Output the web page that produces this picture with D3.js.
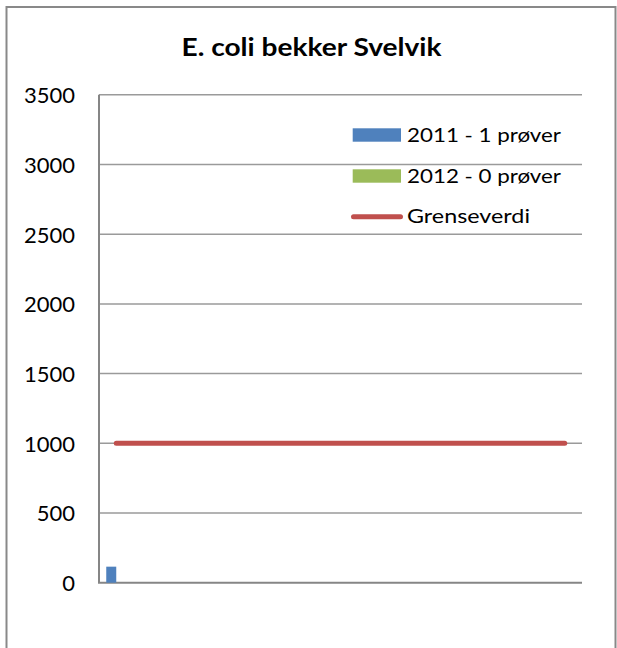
<!DOCTYPE html>
<html><head><meta charset="utf-8">
<script src="https://cdn.jsdelivr.net/npm/d3@7"></script>
<style>body{margin:0;background:#fff}svg{display:block}text{font-family:Lato,"Open Sans",sans-serif;fill:#000}</style>
</head><body>
<script>
// ---- data ----
const title = "E. coli bekker Svelvik";
const categories = ["B1","B2","B3","B4","B5","B6","B7","B8","B9","B10","B11","B12","B13","B14"];
const seriesNames = ["2011 - 1 prøver","2012 - 0 prøver"];
const values2011 = [115,null,null,null,null,null,null,null,null,null,null,null,null,null];
const values2012 = [null,null,null,null,null,null,null,null,null,null,null,null,null,null];
const limitName = "Grenseverdi";
const limitValues = [1000,1000,1000,1000,1000,1000,1000,1000,1000,1000,1000,1000,1000,1000];
const yTicks = [0,500,1000,1500,2000,2500,3000,3500];

// ---- layout ----
const W = 617, H = 648;
const plot = {left: 99, right: 582, top: 94.8, bottom: 582.7};
const colors = {"2011 - 1 prøver":"#4F81BD","2012 - 0 prøver":"#9BBB59"};
const lineColor = "#C0504D";

const svg = d3.select("body").append("svg").attr("width", W).attr("height", H);

// outer frame
svg.append("rect").attr("x",6.5).attr("y",7).attr("width",609).attr("height",680)
  .attr("fill","none").attr("stroke","#898989").attr("stroke-width",2);

// title
svg.append("text").attr("x",311.5).attr("y",56).attr("text-anchor","middle")
  .attr("font-weight","bold").attr("font-size",24.5)
  .attr("textLength",260).attr("lengthAdjust","spacingAndGlyphs").text(title);

const y = d3.scaleLinear().domain([0,3500]).range([plot.bottom, plot.top]);
const x0 = d3.scaleBand().domain(categories).range([plot.left, plot.right]).padding(0);
const groupW = x0.bandwidth()/1.725;
const x1 = d3.scaleBand().domain(seriesNames)
  .range([x0.bandwidth()/2 - groupW/2, x0.bandwidth()/2 + groupW/2]).padding(0);

// gridlines
svg.append("g").selectAll("line").data(yTicks.filter(d=>d>0)).join("line")
  .attr("x1",plot.left).attr("x2",plot.right)
  .attr("y1",d=>y(d)).attr("y2",d=>y(d))
  .attr("stroke","#9a9a9a").attr("stroke-width",1.5);

// y axis
const yAxis = svg.append("g").attr("transform",`translate(${plot.left},0)`)
  .call(d3.axisLeft(y).tickValues(yTicks).tickSize(0).tickPadding(24).tickFormat(d3.format("d")));
yAxis.select(".domain").remove();
yAxis.selectAll("text").attr("font-size",22).attr("font-family","Lato, 'Open Sans', sans-serif")
  .attr("fill","#000").attr("dy","0.36em");

// axis lines
svg.append("line").attr("x1",plot.left).attr("x2",plot.left).attr("y1",plot.top).attr("y2",plot.bottom)
  .attr("stroke","#868686").attr("stroke-width",2);
svg.append("line").attr("x1",plot.left-1).attr("x2",plot.right).attr("y1",plot.bottom).attr("y2",plot.bottom)
  .attr("stroke","#868686").attr("stroke-width",2);

// bars
const seriesData = [values2011, values2012];
seriesNames.forEach((name,i)=>{
  svg.append("g").selectAll("rect")
    .data(categories.map((c,j)=>({c, v: seriesData[i][j]})).filter(d=>d.v!=null))
    .join("rect")
    .attr("x",d=>x0(d.c)+x1(name)).attr("width",x1.bandwidth())
    .attr("y",d=>y(d.v)).attr("height",d=>y(0)-y(d.v))
    .attr("fill",colors[name]);
});

// limit line
const line = d3.line().x((d,j)=>x0(categories[j])+x0.bandwidth()/2).y(d=>y(d));
svg.append("path").datum(limitValues).attr("d",line).attr("fill","none")
  .attr("stroke",lineColor).attr("stroke-width",5).attr("stroke-linecap","round");

// legend
const legend = svg.append("g");
const legItems = [
  {name: seriesNames[0], type:"rect", color: colors[seriesNames[0]], cy: 135, len:154},
  {name: seriesNames[1], type:"rect", color: colors[seriesNames[1]], cy: 176, len:154},
  {name: limitName, type:"line", color: lineColor, cy: 216.7, len:123}
];
legItems.forEach(it=>{
  if(it.type==="rect"){
    legend.append("rect").attr("x",352.7).attr("y",it.cy-6.7).attr("width",48.3).attr("height",13.4).attr("fill",it.color);
  } else {
    legend.append("line").attr("x1",353.5).attr("x2",400.5).attr("y1",it.cy).attr("y2",it.cy)
      .attr("stroke",it.color).attr("stroke-width",5).attr("stroke-linecap","round");
  }
  legend.append("text").attr("x",407).attr("y",it.cy+6.5).attr("font-size",18.5)
    .attr("textLength",it.len).attr("lengthAdjust","spacingAndGlyphs").text(it.name);
});
</script>
</body></html>
